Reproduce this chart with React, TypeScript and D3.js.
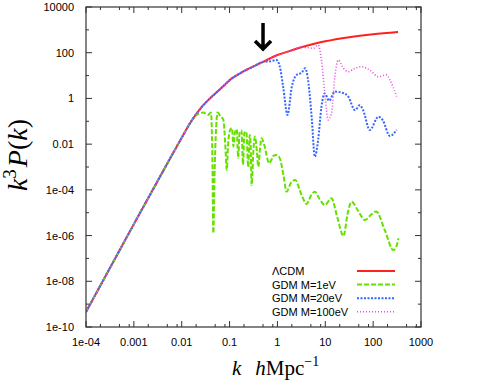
import React from "react";
import * as d3 from "d3";

// log10(k) and log10(k^3 P(k))
const lcdmLogK = [-4.0, -3.5, -3.0, -2.5, -2.0, -1.83, -1.75, -1.6, -1.4, -1.2, -1.1, -1.0, -0.9, -0.78, -0.65, -0.5, -0.3, 0.0, 0.25, 0.5, 0.75, 1.0, 1.5, 2.0, 2.52];
const lcdmLogP = [-9.34, -7.42, -5.5, -3.6, -1.72, -1.1, -0.84, -0.42, 0.02, 0.4, 0.6, 0.8, 0.95, 1.1, 1.25, 1.4, 1.6, 1.9, 2.07, 2.24, 2.38, 2.5, 2.68, 2.81, 2.91];

const gdm1LogK = [-1.69, -1.55, -1.45, -1.39, -1.36, -1.34, -1.31, -1.27, -1.25, -1.2, -1.13, -1.09, -1.06, -1.03, -0.99, -0.95, -0.92, -0.89, -0.85, -0.82, -0.79, -0.75, -0.72, -0.69, -0.65, -0.61, -0.58, -0.56, -0.54, -0.5, -0.47, -0.43, -0.4, -0.36, -0.33, -0.28, -0.17, -0.08, -0.02, 0.05, 0.13, 0.19, 0.28, 0.37, 0.5, 0.61, 0.7, 0.78, 0.88, 0.99, 1.13, 1.25, 1.38, 1.47, 1.55, 1.68, 1.83, 1.95, 2.06, 2.25, 2.42, 2.48, 2.53];
const gdm1LogP = [-0.72, -0.62, -0.72, -0.62, -2.5, -5.9, -3.0, -0.9, -0.62, -0.75, -0.94, -2.0, -3.13, -2.0, -1.38, -1.3, -2.1, -1.5, -1.35, -2.6, -1.5, -1.4, -2.9, -1.5, -1.45, -3.0, -1.6, -2.0, -3.79, -2.2, -1.67, -2.3, -2.99, -2.1, -1.74, -2.0, -2.84, -2.5, -2.47, -2.62, -3.4, -4.08, -3.7, -3.57, -4.2, -4.62, -4.25, -4.08, -4.4, -4.66, -4.37, -5.2, -6.02, -5.0, -4.52, -4.9, -5.32, -5.1, -4.95, -5.8, -6.63, -6.5, -6.12];

const gdm20LogK = [-0.16, -0.02, 0.05, 0.12, 0.21, 0.3, 0.4, 0.51, 0.58, 0.63, 0.72, 0.78, 0.85, 0.92, 0.99, 1.08, 1.2, 1.35, 1.48, 1.62, 1.72, 1.79, 1.93, 2.11, 2.2, 2.35, 2.49];
const gdm20LogP = [1.62, 1.68, 1.39, 0.51, -0.72, 0.51, 1.03, 1.13, 1.32, 0.95, -0.94, -2.55, -1.82, -0.36, 0.22, -0.1, 0.3, 0.25, 0.08, -0.51, -0.3, -0.51, -1.38, -0.8, -0.95, -1.64, -1.38];

const gdm100LogK = [0.64, 0.75, 0.85, 0.92, 0.99, 1.06, 1.13, 1.2, 1.27, 1.38, 1.48, 1.62, 1.76, 1.93, 2.11, 2.28, 2.35, 2.49];
const gdm100LogP = [2.22, 2.19, 2.34, 1.68, 0.22, -0.94, -0.65, 0.95, 1.68, 1.32, 1.17, 1.32, 1.39, 1.24, 0.95, 1.03, 0.81, 0.08];

const xTickValues = [1e-4, 1e-3, 1e-2, 1e-1, 1, 10, 100, 1000];
const xTickLabels = ["1e-04", "0.001", "0.01", "0.1", "1", "10", "100", "1000"];
const yTickValues = [1e-10, 1e-8, 1e-6, 1e-4, 1e-2, 1, 100, 10000];
const yTickLabels = ["1e-10", "1e-08", "1e-06", "1e-04", "0.01", "1", "100", "10000"];

const seriesNames = ["\u039BCDM", "GDM M=1eV", "GDM M=20eV", "GDM M=100eV"];
const arrowK = 0.5;
const arrowFrom = 2000;
const arrowTo = 130;

type Pt = [number, number];

function withLcdmHead(logK: number[], logP: number[]): Pt[] {
  const start = logK[0];
  const head: Pt[] = lcdmLogK.map((k, i) => [k, lcdmLogP[i]] as Pt).filter(p => p[0] < start - 0.02);
  return head.concat(logK.map((k, i) => [k, logP[i]] as Pt));
}

export default function App() {
  const width = 478;
  const height = 382;
  const margin = { top: 7, right: 57, bottom: 55, left: 86 };
  const x = d3.scaleLog().domain([1e-4, 1000]).range([margin.left, width - margin.right]);
  const y = d3.scaleLog().domain([1e-10, 1e4]).range([height - margin.bottom, margin.top]);

  const line = d3.line<Pt>()
    .x(d => x(Math.pow(10, d[0])))
    .y(d => y(Math.pow(10, d[1])))
    .curve(d3.curveMonotoneX);

  const lcdm: Pt[] = lcdmLogK.map((k, i) => [k, lcdmLogP[i]]);
  const series = [
    { name: seriesNames[0], pts: lcdm, color: "#ff2020", dash: "none", w: 2 },
    { name: seriesNames[1], pts: withLcdmHead(gdm1LogK, gdm1LogP), color: "#66e000", dash: "5,2", w: 2 },
    { name: seriesNames[2], pts: withLcdmHead(gdm20LogK, gdm20LogP), color: "#3366ff", dash: "2,1.5", w: 2 },
    { name: seriesNames[3], pts: withLcdmHead(gdm100LogK, gdm100LogP), color: "#e050e0", dash: "1,2", w: 1.6 },
  ];

  const x0 = x.range()[0], x1 = x.range()[1];
  const y0 = y.range()[0], y1 = y.range()[1];
  const axisColor = "#333";

  // minor x ticks at 2, 5, 8 of each decade
  const xMinor: number[] = [];
  for (let e = -4; e < 3; e++) [2, 5, 8].forEach(m => xMinor.push(m * Math.pow(10, e)));
  const yMinor: number[] = [];
  for (let e = -9; e < 4; e += 2) yMinor.push(Math.pow(10, e));

  const tickFont = "'Liberation Sans', Arial, sans-serif";
  const serif = "'Liberation Serif', 'Times New Roman', serif";

  const ax = x(arrowK);
  const ayFrom = y(arrowFrom);
  const ayTo = y(arrowTo);

  return (
    <svg width={width} height={height} style={{ position: "absolute", left: 0, top: 0, background: "#fff" }}>
      <defs>
        <clipPath id="plotclip">
          <rect x={x0} y={y1} width={x1 - x0} height={y0 - y1} />
        </clipPath>
      </defs>

      {/* ticks */}
      {xTickValues.map(v => (
        <g key={"xt" + v}>
          <line x1={x(v)} x2={x(v)} y1={y0} y2={y0 - 6} stroke={axisColor} />
          <line x1={x(v)} x2={x(v)} y1={y1} y2={y1 + 6} stroke={axisColor} />
        </g>
      ))}
      {xMinor.filter(v => v < 1000).map(v => (
        <g key={"xm" + v}>
          <line x1={x(v)} x2={x(v)} y1={y0} y2={y0 - 3} stroke={axisColor} />
          <line x1={x(v)} x2={x(v)} y1={y1} y2={y1 + 3} stroke={axisColor} />
        </g>
      ))}
      {yTickValues.map(v => (
        <g key={"yt" + v}>
          <line x1={x0} x2={x0 + 6} y1={y(v)} y2={y(v)} stroke={axisColor} />
          <line x1={x1} x2={x1 - 6} y1={y(v)} y2={y(v)} stroke={axisColor} />
        </g>
      ))}
      {yMinor.map(v => (
        <g key={"ym" + v}>
          <line x1={x0} x2={x0 + 3} y1={y(v)} y2={y(v)} stroke={axisColor} />
          <line x1={x1} x2={x1 - 3} y1={y(v)} y2={y(v)} stroke={axisColor} />
        </g>
      ))}

      {/* tick labels */}
      {xTickValues.map((v, i) => (
        <text key={"xl" + v} x={x(v)} y={y0 + 19} textAnchor="middle" fontFamily={tickFont} fontSize={11} fill="#000">
          {xTickLabels[i]}
        </text>
      ))}
      {yTickValues.map((v, i) => (
        <text key={"yl" + v} x={x0 - 12} y={y(v) + 4} textAnchor="end" fontFamily={tickFont} fontSize={11} fill="#000">
          {yTickLabels[i]}
        </text>
      ))}

      {/* curves */}
      <g clipPath="url(#plotclip)">
        {series.map(s => (
          <path key={s.name} d={line(s.pts) || ""} fill="none" stroke={s.color} strokeWidth={s.w}
            strokeDasharray={s.dash} />
        ))}
      </g>

      {/* frame */}
      <rect x={x0} y={y1} width={x1 - x0} height={y0 - y1} fill="none" stroke={axisColor} strokeWidth={1.2} />

      {/* arrow */}
      <path d={`M${ax},${ayFrom} L${ax},${ayTo - 2} M${ax - 8},${ayTo - 9} L${ax},${ayTo - 1} L${ax + 8},${ayTo - 9}`}
        fill="none" stroke="#000" strokeWidth={3.5} />

      {/* legend */}
      {series.map((s, i) => {
        const ly = 271 + i * 13.6;
        return (
          <g key={"lg" + s.name}>
            <text x={272} y={ly + 4} fontFamily={tickFont} fontSize={11} fill="#000">{s.name}</text>
            <line x1={357} x2={395} y1={ly} y2={ly} stroke={s.color} strokeWidth={s.w} strokeDasharray={s.dash} />
          </g>
        );
      })}

      {/* axis titles */}
      <text transform={`translate(27,${(y0 + y1) / 2 - 12}) rotate(-90)`} textAnchor="middle" fontFamily={serif} fontSize={28} fill="#000">
        <tspan fontStyle="italic">k</tspan>
        <tspan fontSize={19} dy={-11}>3</tspan>
        <tspan fontStyle="italic" dy={11} dx={2}>P</tspan>
        <tspan>(</tspan>
        <tspan fontStyle="italic">k</tspan>
        <tspan>)</tspan>
      </text>
      <text x={232} y={375} fontFamily={serif} fontSize={21} fill="#000">
        <tspan fontStyle="italic">k</tspan>
        <tspan dx={14} fontStyle="italic">h</tspan>
        <tspan>Mpc</tspan>
        <tspan fontSize={14} dy={-9}>{"\u22121"}</tspan>
      </text>
    </svg>
  );
}
